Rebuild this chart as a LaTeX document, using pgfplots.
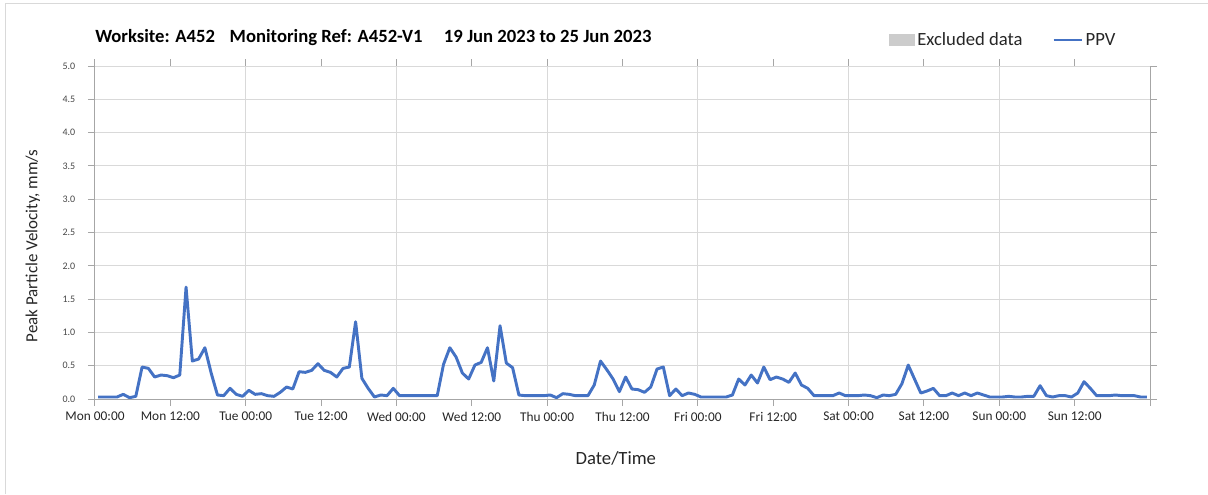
\documentclass[border=0pt]{standalone}
\usepackage{pgfplots}
\usepackage{pgfplotstable}
\pgfplotsset{compat=1.18}
\usepackage{fontspec}
\setmainfont{Carlito}
\definecolor{ppv}{HTML}{4472C4}
\definecolor{gridc}{HTML}{D9D9D9}
\definecolor{axc}{HTML}{A6A6A6}
\definecolor{txt}{HTML}{262626}
\pgfplotstableread{
h v
0.5 0.03
1.5 0.03
2.5 0.03
3.5 0.03
4.5 0.07
5.5 0.02
6.5 0.04
7.5 0.48
8.5 0.46
9.5 0.33
10.5 0.36
11.5 0.35
12.5 0.32
13.5 0.36
14.5 1.68
15.5 0.57
16.5 0.60
17.5 0.77
18.5 0.39
19.5 0.06
20.5 0.05
21.5 0.16
22.5 0.07
23.5 0.04
24.5 0.13
25.5 0.07
26.5 0.08
27.5 0.05
28.5 0.04
29.5 0.10
30.5 0.18
31.5 0.15
32.5 0.41
33.5 0.40
34.5 0.43
35.5 0.53
36.5 0.43
37.5 0.40
38.5 0.33
39.5 0.46
40.5 0.48
41.5 1.16
42.5 0.31
43.5 0.16
44.5 0.03
45.5 0.06
46.5 0.05
47.5 0.16
48.5 0.05
49.5 0.05
50.5 0.05
51.5 0.05
52.5 0.05
53.5 0.05
54.5 0.05
55.5 0.52
56.5 0.77
57.5 0.63
58.5 0.39
59.5 0.30
60.5 0.51
61.5 0.55
62.5 0.77
63.5 0.27
64.5 1.10
65.5 0.54
66.5 0.47
67.5 0.06
68.5 0.05
69.5 0.05
70.5 0.05
71.5 0.05
72.5 0.06
73.5 0.02
74.5 0.08
75.5 0.07
76.5 0.05
77.5 0.05
78.5 0.05
79.5 0.21
80.5 0.57
81.5 0.44
82.5 0.30
83.5 0.11
84.5 0.33
85.5 0.15
86.5 0.14
87.5 0.10
88.5 0.18
89.5 0.45
90.5 0.48
91.5 0.05
92.5 0.15
93.5 0.05
94.5 0.09
95.5 0.07
96.5 0.03
97.5 0.03
98.5 0.03
99.5 0.03
100.5 0.03
101.5 0.06
102.5 0.30
103.5 0.21
104.5 0.36
105.5 0.24
106.5 0.48
107.5 0.29
108.5 0.33
109.5 0.30
110.5 0.25
111.5 0.39
112.5 0.21
113.5 0.16
114.5 0.05
115.5 0.05
116.5 0.05
117.5 0.05
118.5 0.09
119.5 0.05
120.5 0.05
121.5 0.05
122.5 0.06
123.5 0.05
124.5 0.02
125.5 0.06
126.5 0.05
127.5 0.07
128.5 0.23
129.5 0.51
130.5 0.30
131.5 0.09
132.5 0.12
133.5 0.16
134.5 0.05
135.5 0.05
136.5 0.09
137.5 0.05
138.5 0.09
139.5 0.05
140.5 0.09
141.5 0.06
142.5 0.03
143.5 0.03
144.5 0.03
145.5 0.04
146.5 0.03
147.5 0.03
148.5 0.04
149.5 0.04
150.5 0.20
151.5 0.05
152.5 0.03
153.5 0.05
154.5 0.05
155.5 0.03
156.5 0.09
157.5 0.26
158.5 0.16
159.5 0.05
160.5 0.05
161.5 0.05
162.5 0.06
163.5 0.05
164.5 0.05
165.5 0.05
166.5 0.03
167.5 0.03
}\ppvdata
\begin{document}
\begin{tikzpicture}
\path[use as bounding box] (0,0) rectangle (906pt,370.5pt);
\draw[gridc, line width=0.75pt] (3.75pt,0) -- (3.75pt,367.5pt) -- (906pt,367.5pt);
\node[anchor=base west, inner sep=0pt, font=\fontsize{14}{16}\selectfont\bfseries, text=black]
  at (71.25pt,338.25pt) {Worksite: A452\hspace{11pt}Monitoring Ref: A452-V1\hspace{16pt}19 Jun 2023 to 25 Jun 2023};
\begin{axis}[
  at={(71.25pt,71.25pt)}, anchor=south west,
  scale only axis, width=791.25pt, height=249.75pt,
  xmin=0, xmax=168, ymin=0, ymax=5,
  axis line style={draw=none},
  xtick={0,12,...,156},
  xticklabels={Mon 00:00,Mon 12:00,Tue 00:00,Tue 12:00,Wed 00:00,Wed 12:00,Thu 00:00,Thu 12:00,Fri 00:00,Fri 12:00,Sat 00:00,Sat 12:00,Sun 00:00,Sun 12:00},
  minor xtick={24,48,...,144},
  xminorgrids=true, xmajorgrids=false,
  minor x tick style={draw=none},
  minor grid style={gridc, line width=0.75pt},
  ytick={0,0.5,...,5},
  yticklabel={\pgfmathprintnumber[fixed,fixed zerofill,precision=1]{\tick}},
  ymajorgrids=true,
  major grid style={gridc, line width=0.75pt},
  tick align=outside,
  xtick style={axc, line width=0.75pt},
  ytick style={axc, line width=0.75pt},
  major tick length=5.25pt,
  x tick label style={font=\fontsize{10}{12}\selectfont, text=txt, yshift=-1pt},
  y tick label style={font=\fontsize{7.5}{8}\selectfont, text=txt!85, xshift=-6pt},
  /pgf/number format/assume math mode=true,
  xlabel={Date/Time},
  ylabel={Peak Particle Velocity, mm/s},
  xlabel style={font=\fontsize{14}{16}\selectfont, text=txt, yshift=-16pt, xshift=-5pt},
  ylabel style={font=\fontsize{12.7}{14}\selectfont, text=txt, at={(ticklabel cs:0.46)}, yshift=10pt},
  legend columns=2,
  legend style={draw=none, fill=none, at={(0.97,1.078)}, anchor=east,
    font=\fontsize{14}{16}\selectfont, text=txt, inner sep=0pt,
    /tikz/every even column/.append style={column sep=20pt}},
  legend cell align=left,
  clip=false,
]
\addlegendimage{legend image code/.code={\fill[gray!40] (0pt,-4pt) rectangle (19pt,4pt);}}
\addlegendentry{Excluded data}
\addplot[ppv, line width=2.2pt, line join=round, forget plot] table[x=h,y=v] {\ppvdata};
\addlegendimage{legend image code/.code={\draw[ppv, line width=2.2pt] (0pt,0pt) -- (21pt,0pt);}}
\addlegendentry{PPV}
\draw[axc, line width=0.75pt] (rel axis cs:0,0) -- (rel axis cs:0,1);
\draw[axc, line width=0.75pt] (rel axis cs:0,0) -- (rel axis cs:1,0);
\draw[axc, line width=0.75pt] (rel axis cs:1,0) ++(0,-5.25pt) -- (rel axis cs:1,1);
\end{axis}
\end{tikzpicture}
\end{document}
